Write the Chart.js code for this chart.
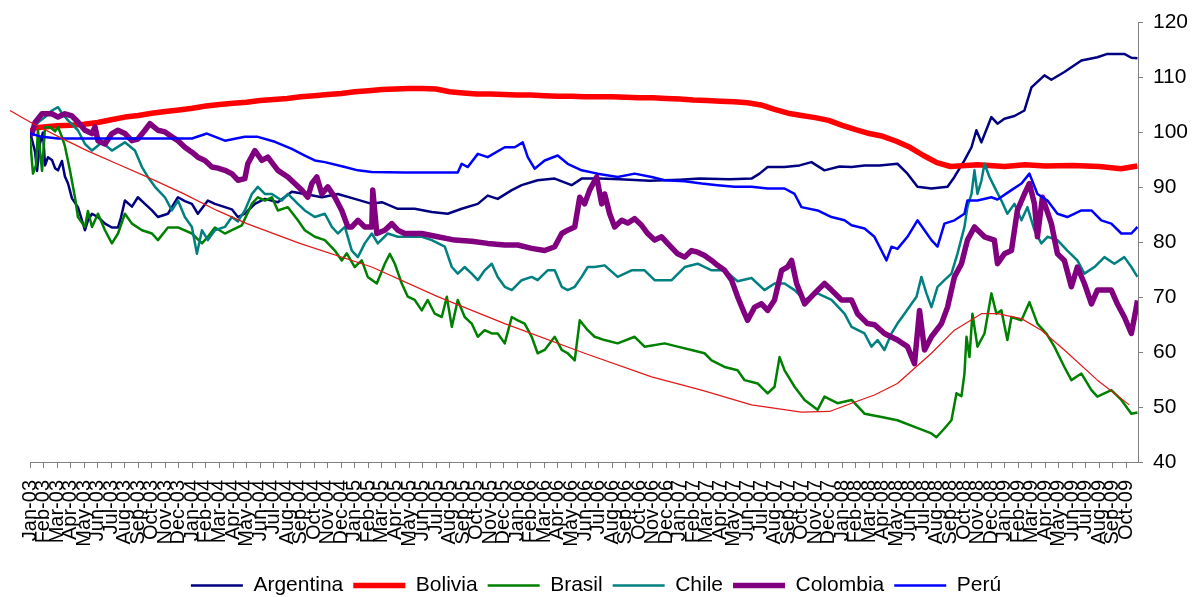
<!DOCTYPE html>
<html>
<head>
<meta charset="utf-8">
<script src="https://cdn.jsdelivr.net/npm/chart.js@4.4.0/dist/chart.umd.min.js"></script>
<style>
  html, body { margin: 0; padding: 0; background: #fff; overflow: hidden; }
  #wrap { position: relative; width: 1192px; height: 606px; }
</style>
</head>
<body>
<div id="wrap"><canvas id="chart"></canvas></div>
<script>
// axis labels: one per month, Jan-03 .. Oct-09
const monthNames = ["Jan", "Feb", "Mar", "Apr", "May", "Jun", "Jul", "Aug", "Sep", "Oct", "Nov", "Dec"];
const years = ["03", "04", "05", "06", "07", "08", "09"];
const tickLabels = [];
years.forEach((yy) => monthNames.forEach((mm) => {
  if (tickLabels.length < 82) tickLabels.push(mm + "-" + yy);
}));

// series: [month index (0 = Jan-03), index value]
const argentina = [[0,100],[0.22,98],[0.37,96.5],[0.52,93],[0.74,98],[0.96,100],[1.11,94],[1.33,95.5],[1.62,95],[1.85,93.5],[2.07,93.1],[2.36,94.8],[2.58,92],[2.81,90.7],[3.10,88],[3.54,86.4],[3.84,84],[4.06,82.2],[4.28,84],[4.58,85.2],[5.02,84.6],[5.54,83.4],[6.05,82.7],[6.50,82.7],[6.72,84.5],[7.01,87.6],[7.53,86.5],[7.97,88.2],[8.49,87],[9.01,85.8],[9.45,84.6],[10.19,85.2],[10.93,88.2],[11.44,87.5],[11.96,87],[12.40,85.2],[13.14,87.6],[13.66,87],[14.40,86.4],[14.91,86],[15.36,84.6],[15.87,85.2],[16.61,87],[17.35,87.9],[18.31,87.3],[19.34,89.2],[20.30,88.8],[21.56,88.2],[22.74,88.8],[23.99,87.9],[25.25,87],[25.99,87.3],[27.17,86.1],[28.42,86.1],[29.68,85.5],[30.86,85.2],[31.89,86.1],[33.08,87],[33.81,88.5],[34.55,87.9],[35.59,89.5],[36.32,90.4],[37.50,91.3],[38.76,91.6],[40.01,90.4],[40.75,91.6],[42.08,91.6],[43.56,91.5],[45.77,91.2],[47.99,91.4],[49.46,91.6],[51.68,91.5],[53.30,91.6],[53.89,92.5],[54.49,93.7],[55.74,93.7],[56.85,94],[57.73,94.6],[58.69,93.1],[59.80,93.8],[60.69,93.7],[61.65,94],[62.75,94],[64.08,94.3],[64.82,92.5],[65.56,90.1],[66.59,89.8],[67.78,90.1],[68.29,91.9],[69.03,94.9],[69.55,97.3],[69.91,100.4],[70.28,98.2],[71.02,102.8],[71.47,101.6],[71.98,102.5],[72.72,103],[73.46,104],[73.98,108.2],[74.94,110.4],[75.45,109.6],[76.41,111],[77.67,113.1],[78.85,113.7],[79.59,114.3],[80.84,114.3],[81.36,113.6],[81.81,113.5]];

const bolivia = [[0,100],[0.3,100.8],[1,101],[2,101.2],[3,101.3],[4,101.5],[5,101.8],[6,102.3],[7,102.8],[8,103.1],[9,103.5],[10,103.8],[11,104.1],[12,104.4],[13,104.8],[14,105.1],[15,105.3],[16,105.5],[17,105.8],[18,106],[19,106.2],[20,106.5],[21,106.7],[22,106.9],[23,107.1],[24,107.4],[25,107.6],[26,107.8],[27,107.9],[28,108],[29,108],[30,107.9],[31,107.4],[32,107.2],[33,107],[34,107],[35,106.9],[36,106.8],[37,106.8],[38,106.7],[39,106.6],[40,106.6],[41,106.5],[42,106.5],[43,106.5],[44,106.4],[45,106.3],[46,106.3],[47,106.2],[48,106.1],[49,105.9],[50,105.8],[51,105.7],[52,105.6],[53,105.4],[54,105],[55,104.2],[56,103.5],[57,103.1],[58,102.7],[59,102.2],[60,101.3],[61,100.5],[62,99.8],[63,99.3],[64,98.4],[65,97.3],[66,95.8],[67,94.5],[68,93.8],[70,94.1],[72,93.8],[73.5,94.1],[75,93.9],[77,94],[79,93.8],[80.6,93.4],[81.8,93.9]];

const brasil = [[0,99],[0.22,92.5],[0.44,94],[0.59,100.4],[0.89,93],[1.11,100.9],[1.48,101],[1.85,100.2],[2.07,101],[2.36,99.2],[2.58,97.5],[2.95,93.1],[3.32,88.2],[3.54,84.6],[4.06,82.8],[4.28,85.7],[4.58,82.8],[5.02,85.2],[5.54,82.2],[6.05,79.8],[6.50,81.6],[7.01,85.2],[7.53,83.4],[8.27,82.2],[9.01,81.6],[9.45,80.4],[10.19,82.7],[10.93,82.7],[11.96,81.6],[12.70,79.8],[13.14,81],[13.66,82.7],[14.40,81.6],[14.91,82.2],[15.65,83.1],[16.39,87],[16.83,88.2],[17.35,87.6],[17.87,88.2],[18.31,85.8],[19.05,86.4],[19.79,84],[20.30,82.2],[21.04,81],[21.78,80.4],[22.52,78.5],[23.03,76.7],[23.40,78],[23.99,75.5],[24.51,76.7],[24.95,73.7],[25.62,72.5],[26.21,76.1],[26.58,77.9],[26.95,76.1],[27.46,72.5],[27.91,70.1],[28.42,69.5],[28.94,67.6],[29.38,69.5],[29.90,67],[30.42,66.4],[30.79,70.1],[31.16,64.6],[31.60,69.5],[32.11,66.4],[32.63,65.2],[33.08,62.8],[33.59,64],[34.11,63.4],[34.55,63.4],[35.07,61.6],[35.59,66.4],[36.03,65.8],[36.54,65.2],[37.06,62.8],[37.50,59.8],[38.02,60.4],[38.76,62.8],[39.28,60.4],[39.72,59.8],[40.24,58.5],[40.61,65.8],[41.20,64],[41.71,62.8],[42.45,62.2],[43.41,61.6],[44.67,62.8],[45.40,61],[46.88,61.6],[47.84,61],[48.87,60.4],[49.83,59.8],[50.35,58.5],[51.31,57.3],[52.27,56.7],[52.79,54.9],[53.75,54.3],[54.49,52.5],[55.00,53.7],[55.37,59.1],[55.74,56.7],[56.48,53.7],[57.22,51.3],[58.18,49.5],[58.69,51.9],[59.65,50.7],[60.69,51.3],[61.65,48.8],[62.90,48.2],[64.08,47.6],[65.34,46.4],[66.59,45.2],[66.96,44.5],[67.55,46.1],[68.07,47.6],[68.44,52.5],[68.81,52],[69.03,56.1],[69.18,62.8],[69.40,59.1],[69.62,67],[69.99,61],[70.51,63.4],[71.02,70.7],[71.39,67],[71.76,67.6],[72.20,62.2],[72.50,66.4],[73.24,65.8],[73.83,69.1],[74.42,65.2],[75.08,63.4],[75.67,61],[76.41,57.3],[76.93,54.9],[77.67,56.1],[78.41,53.1],[78.85,51.9],[79.88,53.1],[80.62,51.3],[81.36,48.8],[81.81,49]];

const chile = [[0,100],[0.15,100.4],[0.59,101.8],[1.11,102.8],[1.62,104],[2.07,104.6],[2.36,103.5],[2.81,102.2],[3.54,100.4],[4.06,97.9],[4.58,96.7],[5.32,98.2],[6.05,96.7],[7.01,98.2],[7.75,96.7],[8.27,93.7],[8.71,91.9],[9.23,90.1],[9.97,88.2],[10.48,85.8],[10.93,87.6],[11.44,84.6],[11.96,82.8],[12.33,77.9],[12.70,82.2],[13.14,80.4],[13.66,82.2],[14.40,82.8],[14.91,84.6],[15.36,83.8],[15.87,85.8],[16.39,88.8],[16.83,90.1],[17.35,88.8],[17.87,88.8],[18.60,87.6],[19.05,88.8],[19.79,87],[20.30,85.8],[21.04,84.6],[21.78,85.2],[22.30,82.8],[22.74,81.6],[23.26,82.8],[23.77,78.5],[24.22,77.3],[24.73,79.8],[25.25,81.6],[25.69,79.8],[26.43,81.6],[27.17,81],[28.20,81],[28.94,81],[29.68,80.4],[30.64,79.2],[31.16,75.5],[31.60,74.3],[32.11,75.5],[32.63,74.3],[33.08,73.1],[33.59,74.9],[34.11,76.1],[34.55,73.7],[35.07,71.9],[35.59,71.3],[36.32,73.1],[37.06,73.7],[37.50,73.1],[38.24,74.9],[38.76,74.9],[39.28,71.9],[39.72,71.3],[40.24,71.9],[40.75,73.7],[41.20,75.5],[41.71,75.5],[42.45,75.8],[43.41,73.7],[44.44,74.9],[45.40,74.9],[46.14,73.1],[47.40,73.1],[48.36,75.5],[49.32,76.1],[50.35,74.9],[51.31,74.9],[52.27,72.9],[53.30,73.5],[54.26,71.3],[55.00,72.5],[55.74,72.5],[56.48,71.3],[57.22,69.5],[58.18,70.7],[59.21,69.5],[60.17,67],[60.69,64.6],[61.65,63.4],[62.16,61],[62.61,62.2],[63.12,60.4],[63.64,63.4],[64.08,65.2],[64.60,67],[65.12,68.8],[65.49,70.1],[65.85,73.7],[66.22,70.7],[66.59,68.2],[67.04,71.9],[67.55,73.1],[68.07,74.3],[68.51,77.9],[69.03,82.8],[69.25,86.4],[69.55,88.8],[69.77,93.1],[69.99,88.8],[70.28,91.2],[70.51,94.3],[70.88,91.9],[71.24,90.1],[71.76,87.6],[72.20,85.2],[72.72,87],[73.24,84],[73.68,86.4],[74.20,82.2],[74.71,79.8],[75.16,81],[75.90,80.4],[76.63,78.5],[77.37,76.7],[77.89,74.3],[78.63,75.5],[79.37,77.3],[80.10,76.1],[80.84,77.3],[81.36,75.5],[81.81,73.7]];

const colombia = [[0,99.5],[0.15,99.8],[0.37,101.8],[0.89,103.4],[1.62,103.4],[2.07,102.8],[2.58,103.4],[3.10,103],[3.54,101.9],[4.06,100.4],[4.58,99.8],[4.80,101],[5.02,98.5],[5.54,97.9],[6.05,99.8],[6.50,100.4],[7.01,99.8],[7.53,98.5],[7.97,98.8],[8.49,100.4],[8.86,101.6],[9.45,100.4],[9.97,100.1],[10.48,99.2],[10.93,98.5],[11.44,97.3],[11.96,96.4],[12.40,95.5],[12.92,94.9],[13.44,93.7],[13.88,93.5],[14.40,93.1],[14.91,92.5],[15.36,91.3],[15.87,91.6],[16.09,94.3],[16.61,96.7],[17.13,94.9],[17.57,95.5],[18.31,93.1],[19.05,91.9],[19.56,90.7],[20.08,89.5],[20.52,88.2],[20.82,90.7],[21.19,91.9],[21.56,88.8],[22.00,90.1],[22.52,88.2],[23.03,85.8],[23.48,82.8],[23.77,82.8],[24.22,84],[24.73,82.8],[25.25,82.8],[25.32,89.5],[25.62,81.6],[26.21,82.2],[26.73,83.4],[27.17,82.2],[27.69,81.6],[28.94,81.6],[30.12,81],[31.38,80.4],[32.63,80.2],[33.81,79.8],[35.07,79.5],[36.03,79.5],[37.06,78.9],[38.02,78.5],[38.76,79.2],[39.28,81.6],[39.72,82.2],[40.24,82.8],[40.61,88.2],[40.97,87],[41.34,89.5],[41.86,91.9],[42.23,87],[42.45,88.8],[42.82,85.2],[43.19,82.8],[43.71,84],[44.15,83.5],[44.67,84.3],[45.18,83.1],[45.63,81.6],[46.14,80.4],[46.66,81],[47.10,79.8],[47.84,77.9],[48.36,77.3],[48.87,78.5],[49.32,78.2],[49.83,77.6],[50.35,76.7],[50.79,75.8],[51.31,74.9],[51.83,73.1],[52.27,70.1],[52.79,67],[53.01,65.8],[53.53,68.2],[54.04,68.8],[54.49,67.6],[55.00,69.5],[55.52,74.9],[55.96,75.5],[56.26,76.7],[56.63,72.5],[57.22,68.8],[57.95,70.7],[58.69,72.5],[59.21,71.3],[59.95,69.5],[60.69,69.5],[61.13,67],[61.87,65.2],[62.38,65],[63.12,63.4],[64.08,62.2],[64.82,61],[65.34,57.9],[65.71,67.6],[66.08,60.4],[66.59,62.8],[67.33,65.2],[67.78,68.2],[68.29,73.7],[68.81,76.1],[69.25,80.4],[69.77,82.8],[70.51,81],[71.24,80.4],[71.47,76.1],[71.98,77.9],[72.50,78.5],[72.94,85.8],[73.46,88.8],[73.83,90.7],[74.20,87],[74.42,81],[74.79,88.2],[75.45,83.4],[75.90,77.9],[76.41,76.7],[76.93,71.9],[77.37,75.5],[77.89,72.5],[78.41,68.8],[78.85,71.3],[79.88,71.3],[80.32,68.8],[80.84,66.4],[81.36,63.4],[81.73,68.2],[81.81,69.4]];

const peru = [[0,99.8],[0.89,99.2],[2.07,98.9],[5.17,98.9],[8.86,98.9],[11.96,98.9],[13.07,99.8],[14.40,98.5],[15.87,99.2],[16.83,99.2],[18.09,98.3],[19.34,97],[20.30,95.8],[21.04,94.9],[21.78,94.6],[23.26,93.7],[24.22,93.1],[25.25,92.8],[27.69,92.7],[31.60,92.7],[31.89,94.3],[32.34,93.7],[33.08,96.1],[33.81,95.5],[35.07,97.3],[35.81,97.3],[36.40,98.2],[36.77,95.5],[37.28,93.4],[38.02,94.9],[38.98,95.8],[39.72,94.3],[40.75,93.1],[41.93,92.5],[43.41,91.9],[44.67,92.5],[45.92,91.9],[46.88,91.3],[48.36,91.1],[49.61,90.7],[50.79,90.4],[52.05,90.1],[53.30,90.1],[54.49,89.8],[55.74,89.8],[56.48,88.8],[56.99,86.4],[58.18,85.8],[59.21,84.6],[60.17,84],[60.69,83.1],[61.65,82.5],[62.38,81],[62.90,78.5],[63.27,76.7],[63.64,79.2],[64.08,78.8],[64.82,81],[65.56,84],[66.08,82.2],[66.59,80.4],[67.04,79.2],[67.55,83.4],[68.29,84],[69.03,85.2],[69.25,87.6],[69.99,87.6],[71.02,88.2],[71.47,87.8],[72.50,89.5],[73.24,90.7],[73.83,92.5],[74.42,88.8],[75.16,87.6],[75.90,85.2],[76.63,84.6],[77.67,85.8],[78.41,85.8],[79.14,84],[79.88,83.4],[80.62,81.6],[81.36,81.6],[81.81,82.8]];

// thin red trend line (no legend entry)
const trend = [[-1.48,104],[0,101.9],[2.21,99.1],[4.21,96.7],[6.42,94.3],[8.64,91.9],[11.30,88.9],[13.81,85.8],[16.02,83.4],[19.93,79.8],[25.25,75.5],[30.12,70.1],[35.07,65.2],[40.97,59.8],[45.92,55.5],[49.61,53.1],[53.30,50.4],[56.99,49.1],[59.06,49.2],[60.69,50.7],[62.38,52.2],[64.08,54.3],[66.59,59.8],[68.29,64],[70.28,67],[71.47,67],[73.24,66.1],[74.71,64],[76.41,60.4],[78.85,54.9],[81.21,50.4]];

const FONT = "'Liberation Sans', Arial, sans-serif";

function toPoints(arr) {
  return arr.map((p) => ({ x: p[0], y: p[1] }));
}

function serie(label, arr, color, width, order) {
  return {
    label: label,
    data: toPoints(arr),
    borderColor: color,
    backgroundColor: color,
    borderWidth: width,
    pointRadius: 0,
    tension: 0,
    borderJoinStyle: "round",
    order: order,
  };
}

// later series are painted on top, like the original
const datasets = [
  serie("Argentina", argentina, "#000080", 2.5, 6),
  serie("Bolivia", bolivia, "#ff0000", 5.5, 5),
  serie("Brasil", brasil, "#008000", 2.5, 4),
  serie("Chile", chile, "#008080", 2.5, 3),
  serie("Colombia", colombia, "#800080", 5.5, 2),
  serie("Perú", peru, "#0000ff", 2.5, 1),
];
const trendSet = serie("tendencia", trend, "rgb(225,25,25)", 1.25, 0);
trendSet.clip = false;
datasets.push(trendSet);

new Chart(document.getElementById("chart"), {
  type: "line",
  data: { datasets: datasets },
  options: {
    responsive: true,
    maintainAspectRatio: false,
    animation: false,
    layout: { padding: { left: 0, right: 0, top: 22, bottom: 0 } },
    scales: {
      x: {
        type: "linear",
        min: 0,
        max: 81.85,
        afterBuildTicks: (scale) => {
          scale.ticks = tickLabels.map((_, i) => ({ value: i }));
        },
        afterFit: (scale) => { scale.height = 103; },
        ticks: {
          autoSkip: false,
          maxRotation: 90,
          minRotation: 90,
          padding: 12,
          color: "#000",
          font: { family: FONT, size: 20 },
          callback: (value, index) => tickLabels[index],
        },
        grid: { drawOnChartArea: false, drawTicks: true, tickLength: 6, color: "#808080" },
        border: { color: "#808080" },
      },
      // empty left strip so the plot starts at x = 30
      spacer: {
        position: "left",
        display: true,
        ticks: { display: false },
        grid: { display: false, drawTicks: false },
        border: { display: false },
        afterFit: (scale) => { scale.width = 30; },
      },
      y: {
        position: "right",
        min: 40,
        max: 120,
        afterFit: (scale) => { scale.width = 54; },
        ticks: {
          stepSize: 10,
          padding: 10,
          color: "#000",
          font: { family: FONT, size: 21 },
        },
        grid: { drawOnChartArea: false, drawTicks: true, tickLength: 5, color: "#808080" },
        border: { color: "#808080" },
      },
    },
    plugins: {
      tooltip: { enabled: false },
      legend: {
        position: "bottom",
        labels: {
          usePointStyle: true,
          pointStyle: "line",
          pointStyleWidth: 52,
          padding: 10,
          color: "#000",
          font: { family: FONT, size: 21 },
          filter: (item) => item.datasetIndex < 6,
          sort: (a, b) => a.datasetIndex - b.datasetIndex,
        },
      },
    },
  },
});
</script>
</body>
</html>
